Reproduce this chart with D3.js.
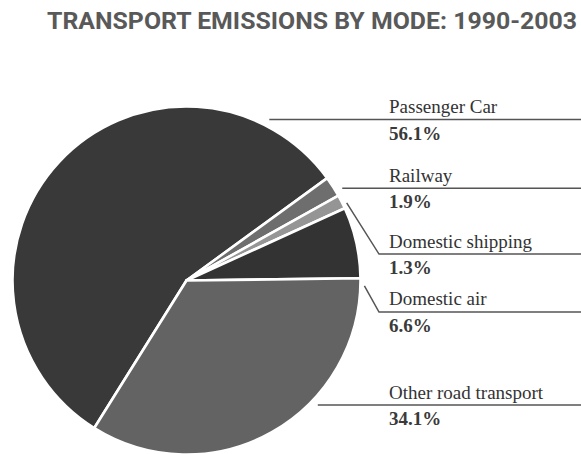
<!DOCTYPE html>
<html>
<head>
<meta charset="utf-8">
<script src="https://cdn.jsdelivr.net/npm/d3@7"></script>
<style>
  html, body { margin: 0; padding: 0; background: #fff; }
  svg { display: block; }
</style>
</head>
<body>
<svg id="chart" width="581" height="454"></svg>
<script>
// ---- data ----
const title = "TRANSPORT EMISSIONS BY MODE: 1990-2003";
const categories = ["Passenger Car", "Railway", "Domestic shipping", "Domestic air", "Other road transport"];
const values = [56.1, 1.9, 1.3, 6.6, 34.1];
const valueLabels = ["56.1%", "1.9%", "1.3%", "6.6%", "34.1%"];

// ---- styles ----
const colors = ["#393939", "#6e6e6e", "#959595", "#333333", "#636363"];

const W = 581, H = 454;
const cx = 186.5, cy = 280.5, R = 174;
const deg = Math.PI / 180;
const serif = "'Liberation Serif', 'Times New Roman', Times, serif";

const svg = d3.select("#chart");

svg.append("text")
  .attr("x", 47).attr("y", 28.5)
  .attr("font-family", "Roboto, 'Liberation Sans', sans-serif")
  .attr("font-weight", 700)
  .attr("font-size", 24)
  .attr("fill", "#595959")
  .attr("textLength", 530)
  .attr("lengthAdjust", "spacingAndGlyphs")
  .text(title);

const data = categories.map((c, i) => ({ name: c, value: values[i], label: valueLabels[i], color: colors[i] }));

const pie = d3.pie().sort(null).value(d => d.value)
  .startAngle(-148 * deg).endAngle(212 * deg);
const arcs = pie(data);
const arc = d3.arc().innerRadius(0).outerRadius(R);

const g = svg.append("g").attr("transform", `translate(${cx},${cy})`);
g.selectAll("path.slice").data(arcs).join("path")
  .attr("class", "slice")
  .attr("d", arc)
  .attr("fill", d => d.data.color)
  .attr("stroke", "#fff")
  .attr("stroke-width", 2.6)
  .attr("stroke-linejoin", "round");

// ---- label layout (relative to the pie radius) ----
const lineYFrac = [-0.925, -0.53, -0.152, 0.181, 0.716];  // leader line heights
const elbow = [false, false, true, true, false];             // diagonal leader for small slices
const textX = 389, elbowX = 379 - cx;

const lg = svg.append("g").attr("transform", `translate(${cx},${cy})`);
arcs.forEach((a, i) => {
  const ly = lineYFrac[i] * R;
  let pts;
  if (elbow[i]) {
    const mid = (a.startAngle + a.endAngle) / 2;
    const rr = R + 4;
    const ang = i === 3 ? a.endAngle + 2.5 * deg : mid + 1 * deg;
    const sx = rr * Math.sin(ang), sy = -rr * Math.cos(ang);
    pts = [[sx, sy], [elbowX, ly], [W - cx, ly]];
  } else {
    const rr = R + 7;
    const sx = Math.sqrt(rr * rr - ly * ly);
    pts = [[sx, ly], [W - cx, ly]];
  }
  lg.append("path")
    .attr("d", d3.line()(pts))
    .attr("fill", "none")
    .attr("stroke", "#555")
    .attr("stroke-width", 1.5);

  lg.append("text")
    .attr("x", textX - cx).attr("y", ly - 6.5)
    .attr("font-family", serif)
    .attr("font-size", 19)
    .attr("fill", "#333")
    .text(a.data.name);

  lg.append("text")
    .attr("x", textX - cx).attr("y", ly + 20)
    .attr("font-family", serif)
    .attr("font-size", 19)
    .attr("font-weight", 700)
    .attr("fill", "#3a3a3a")
    .text(a.data.label);
});
</script>
</body>
</html>
